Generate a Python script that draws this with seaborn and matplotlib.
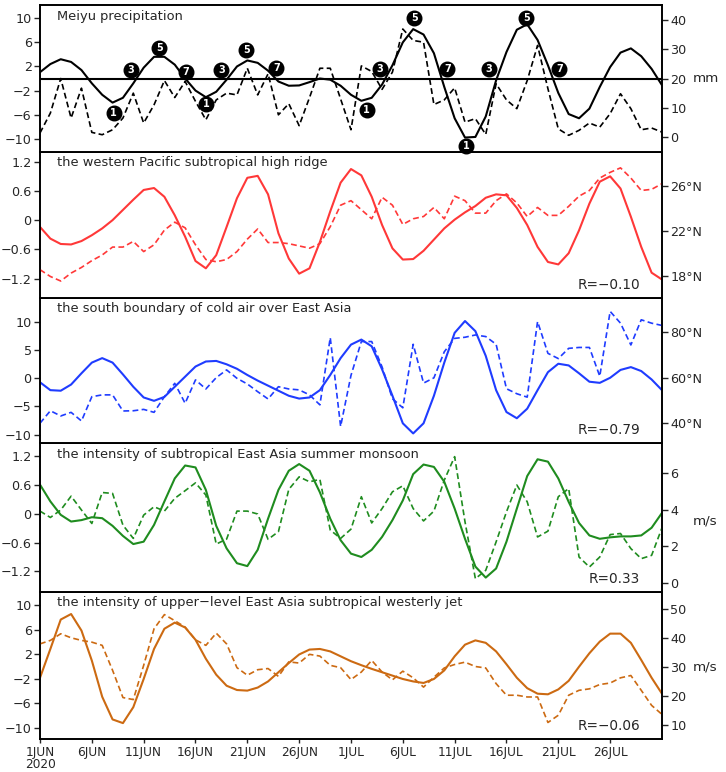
import numpy as np
import pandas as pd
import matplotlib
matplotlib.use("Agg")
import matplotlib.pyplot as plt
import seaborn as sns

sns.set_style("ticks")
plt.rcParams["font.family"] = ["DejaVu Sans"]
plt.rcParams["axes.unicode_minus"] = True

# days since 1 Jun 2020
days = np.arange(61)
tick_days = [0, 5, 10, 15, 20, 25, 30, 35, 40, 45, 50, 55]
tick_labels = ["1JUN\n2020", "6JUN", "11JUN", "16JUN", "21JUN", "26JUN",
               "1JUL", "6JUL", "11JUL", "16JUL", "21JUL", "26JUL"]

# Meiyu precipitation: filtered (left) and raw in mm (right)
meiyu_iso = [1.05, 2.4, 3.2, 2.75, 1.4, -0.8, -2.7, -4.0, -3.2, -0.8,
             1.8, 3.6, 3.6, 2.3, 0.0, -2.0, -3.1, -2.2, -0.2, 2.0,
             3.0, 2.6, 1.3, -0.5, -1.2, -1.15, -0.6, 0.0, -0.2, -1.2,
             -2.7, -3.7, -3.2, -1.0, 2.2, 6.0, 8.2, 7.3, 4.2, -1.4,
             -6.6, -9.8, -9.7, -6.3, -0.3, 4.4, 8.1, 9.0, 6.4, 2.2,
             -2.4, -5.9, -6.6, -5.0, -1.4, 1.9, 4.3, 5.0, 3.7, 1.6, -1.1]
meiyu_raw = [1.4, 8.2, 20.0, 6.5, 16.7, 1.6, 0.8, 2.5, 6.5, 15.0,
             4.8, 11.0, 19.3, 13.5, 19.0, 12.2, 5.9, 12.7, 15.0, 14.4,
             23.5, 14.4, 21.6, 7.6, 11.4, 3.9, 13.5, 23.5, 23.5, 13.0,
             2.5, 24.3, 22.4, 16.3, 22.2, 36.9, 33.0, 32.4, 11.1, 12.7,
             16.8, 5.1, 6.3, 0.9, 18.2, 12.7, 9.7, 19.3, 31.3, 16.5,
             2.8, 0.6, 2.3, 4.8, 3.4, 8.0, 14.8, 9.7, 2.5, 3.1, 1.7]

# ISO phase markers on the Meiyu curve
phase_num = [1, 3, 5, 7, 1, 3, 5, 7, 1, 3, 5, 7, 1, 3, 5, 7]
phase_day = [7.1, 8.8, 11.5, 14.1, 16.0, 17.5, 19.9, 22.8,
             31.5, 32.8, 36.1, 39.3, 41.1, 43.3, 46.9, 50.1]
phase_val = [-5.7, 1.4, 5.1, 1.0, -4.2, 1.4, 4.7, 1.7,
             -5.3, 1.6, 10.0, 1.5, -11.2, 1.5, 10.1, 1.5]

# western Pacific subtropical high ridge
wpsh_iso = [-0.14, -0.38, -0.49, -0.50, -0.43, -0.31, -0.17, 0.0, 0.21, 0.42,
            0.62, 0.66, 0.48, 0.10, -0.34, -0.84, -0.99, -0.72, -0.14, 0.45,
            0.87, 0.91, 0.53, -0.27, -0.79, -1.10, -0.99, -0.45, 0.18, 0.77,
            1.05, 0.92, 0.48, -0.10, -0.58, -0.81, -0.80, -0.63, -0.40, -0.17,
            0.01, 0.16, 0.29, 0.46, 0.53, 0.51, 0.25, -0.10, -0.55, -0.86,
            -0.91, -0.68, -0.21, 0.34, 0.79, 0.90, 0.65, 0.07, -0.55, -1.08, -1.22]
wpsh_raw = [18.6, 18.0, 17.6, 18.3, 18.8, 19.4, 19.9, 20.6, 20.6, 21.1,
            20.2, 20.8, 22.1, 22.8, 22.3, 20.8, 19.5, 19.3, 19.5, 20.2,
            21.3, 22.2, 21.0, 21.0, 20.9, 20.7, 20.5, 20.9, 22.4, 24.3,
            24.7, 23.9, 23.1, 25.0, 24.3, 22.6, 23.1, 23.3, 24.1, 23.1,
            25.1, 24.7, 23.6, 23.6, 24.7, 25.3, 24.5, 23.3, 24.1, 23.4,
            23.4, 24.2, 25.1, 25.6, 26.7, 27.2, 27.6, 26.7, 25.6, 25.7, 26.2]

# south boundary of cold air over East Asia
cold_iso = [-0.7, -2.1, -2.2, -1.1, 0.9, 2.8, 3.6, 2.8, 0.7, -1.5,
            -3.4, -4.0, -3.3, -1.5, 0.3, 2.1, 3.0, 3.1, 2.5, 1.7,
            0.6, -0.4, -1.3, -2.2, -3.1, -3.6, -3.4, -2.1, 0.6, 3.6,
            6.0, 6.9, 5.7, 1.6, -3.1, -8.0, -9.8, -8.0, -3.1, 2.8,
            8.1, 10.2, 8.4, 4.0, -2.1, -6.0, -7.1, -5.4, -2.1, 1.1,
            2.6, 2.3, 0.9, -0.6, -0.8, 0.1, 1.5, 2.0, 1.3, -0.2, -2.1]
cold_raw = [39.9, 45.4, 43.1, 44.7, 40.9, 51.6, 52.4, 52.4, 45.3, 45.4,
            46.0, 44.7, 51.6, 57.5, 48.7, 59.0, 55.0, 60.0, 63.4, 59.7,
            57.2, 53.8, 50.6, 56.0, 55.0, 54.6, 52.4, 48.0, 77.6, 38.5,
            61.0, 75.9, 75.9, 64.7, 50.7, 46.7, 74.7, 57.6, 59.9, 71.4,
            77.3, 77.8, 78.8, 78.1, 74.7, 55.1, 52.9, 51.4, 84.7, 70.7,
            68.4, 72.9, 73.3, 73.3, 60.6, 89.2, 84.0, 74.4, 85.5, 84.0, 83.0]

# intensity of subtropical East Asia summer monsoon
monsoon_iso = [0.61, 0.26, -0.02, -0.16, -0.13, -0.07, -0.09, -0.25, -0.46, -0.63,
               -0.58, -0.23, 0.26, 0.74, 1.01, 0.97, 0.50, -0.25, -0.72, -1.03,
               -1.09, -0.75, -0.10, 0.50, 0.90, 1.04, 0.90, 0.45, -0.10, -0.55,
               -0.83, -0.90, -0.75, -0.48, -0.13, 0.28, 0.83, 1.03, 0.98, 0.67,
               0.11, -0.52, -1.10, -1.33, -1.14, -0.58, 0.11, 0.79, 1.14, 1.09,
               0.74, 0.25, -0.19, -0.45, -0.52, -0.49, -0.47, -0.47, -0.45, -0.29, 0.02]
monsoon_raw = [3.93, 3.58, 3.99, 4.75, 3.99, 3.25, 4.95, 4.90, 3.16, 2.43,
               3.71, 4.17, 3.93, 4.63, 5.05, 5.48, 4.81, 2.12, 2.39, 3.93,
               3.93, 3.77, 2.38, 2.80, 5.12, 5.81, 5.54, 5.67, 2.89, 2.43,
               2.94, 4.72, 3.28, 4.07, 4.99, 5.32, 4.07, 3.39, 3.93, 5.63,
               6.92, 3.34, 0.22, 0.68, 2.24, 3.89, 5.36, 4.44, 2.51, 2.83,
               4.72, 5.17, 1.41, 0.86, 1.41, 2.64, 2.70, 1.87, 1.32, 1.50, 3.01]

# intensity of upper-level East Asia subtropical westerly jet
jet_iso = [-1.8, 2.9, 7.7, 8.6, 5.9, 1.0, -4.9, -8.6, -9.2, -6.6,
           -2.0, 2.9, 6.2, 7.2, 6.4, 4.4, 1.3, -1.3, -3.1, -3.8,
           -3.9, -3.4, -2.4, -0.9, 0.6, 2.0, 2.8, 2.9, 2.5, 1.7,
           0.9, 0.25, -0.35, -0.9, -1.45, -2.0, -2.4, -2.65, -2.0, -0.6,
           1.7, 3.6, 4.3, 3.9, 2.5, 0.4, -1.8, -3.5, -4.4, -4.5,
           -3.7, -2.3, 0.0, 2.2, 4.1, 5.4, 5.4, 3.9, 1.1, -1.8, -4.4]
jet_raw = [37.8, 39.0, 41.3, 39.9, 39.0, 38.4, 37.3, 28.7, 19.3, 18.6,
           30.4, 43.0, 47.9, 45.8, 43.6, 39.2, 37.3, 41.5, 37.8, 29.6,
           27.0, 28.9, 29.3, 26.6, 31.6, 31.2, 34.2, 33.6, 30.4, 29.6,
           25.5, 28.1, 32.1, 28.1, 25.4, 28.4, 26.1, 22.9, 26.3, 29.5,
           30.7, 31.5, 30.0, 29.5, 24.1, 20.1, 20.1, 19.5, 19.5, 10.7,
           13.2, 20.1, 21.8, 22.3, 23.8, 24.3, 26.1, 26.9, 21.8, 16.6, 13.5]

panels = [
    dict(title="Meiyu precipitation", iso=meiyu_iso, raw=meiyu_raw, color="black",
         ylim=(-12.2, 12.2), yticks=[-10, -6, -2, 2, 6, 10], yfmt="{:g}",
         ylim2=(-5.1, 45.1), yticks2=[0, 10, 20, 30, 40], yfmt2="{:g}",
         unit="mm", unit_y=20, r=None),
    dict(title="the western Pacific subtropical high ridge", iso=wpsh_iso, raw=wpsh_raw,
         color="#ff3838", ylim=(-1.6, 1.4), yticks=[-1.2, -0.6, 0, 0.6, 1.2], yfmt="{:g}",
         ylim2=(16.1, 29.0), yticks2=[18, 22, 26], yfmt2="{:g}°N",
         unit=None, unit_y=None, r="R=\u22120.10"),
    dict(title="the south boundary of cold air over East Asia", iso=cold_iso, raw=cold_raw,
         color="#1f3cff", ylim=(-11.5, 14.3), yticks=[-10, -5, 0, 5, 10], yfmt="{:g}",
         ylim2=(31.2, 95.1), yticks2=[40, 60, 80], yfmt2="{:g}°N",
         unit=None, unit_y=None, r="R=\u22120.79"),
    dict(title="the intensity of subtropical East Asia summer monsoon", iso=monsoon_iso,
         raw=monsoon_raw, color="#1f8c1f", ylim=(-1.63, 1.48),
         yticks=[-1.2, -0.6, 0, 0.6, 1.2], yfmt="{:g}",
         ylim2=(-0.51, 7.67), yticks2=[0, 2, 4, 6], yfmt2="{:g}",
         unit="m/s", unit_y=3.4, r="R=0.33"),
    dict(title="the intensity of upper\u2212level East Asia subtropical westerly jet",
         iso=jet_iso, raw=jet_raw, color="#cc6a12", ylim=(-11.8, 12.2),
         yticks=[-10, -6, -2, 2, 6, 10], yfmt="{:g}",
         ylim2=(5.0, 55.7), yticks2=[10, 20, 30, 40, 50], yfmt2="{:g}",
         unit="m/s", unit_y=30, r="R=\u22120.06"),
]

fig = plt.figure(figsize=(7.26, 7.72), dpi=100)
bounds = [(0.8031, 0.9935), (0.6140, 0.8031), (0.4262, 0.6140),
          (0.2332, 0.4262), (0.0427, 0.2332)]
left, width = 0.0551, 0.8567
fs = 9.2

for i, (p, (b, t)) in enumerate(zip(panels, bounds)):
    ax = fig.add_axes([left, b, width, t - b])
    ax2 = ax.twinx()
    ax.set_zorder(10 - 2 * i)
    ax2.set_zorder(11 - 2 * i)
    df = pd.DataFrame({"day": days, "iso": p["iso"], "raw": p["raw"]})
    sns.lineplot(data=df, x="day", y="iso", ax=ax, color=p["color"], lw=1.5)
    sns.lineplot(data=df, x="day", y="raw", ax=ax2, color=p["color"], lw=1.2,
                 linestyle=(0, (3.5, 2)))
    ax.set_xlim(0, 60)
    ax.set_ylim(*p["ylim"])
    ax2.set_ylim(*p["ylim2"])
    ax.set_yticks(p["yticks"])
    ax.set_yticklabels([p["yfmt"].format(v).replace("-", "\u2212") for v in p["yticks"]])
    ax2.set_yticks(p["yticks2"])
    ax2.set_yticklabels([p["yfmt2"].format(v) for v in p["yticks2"]])
    ax.set_xlabel("")
    ax.set_ylabel("")
    ax2.set_ylabel("")
    for a in (ax, ax2):
        a.tick_params(axis="y", labelsize=fs, length=4, width=1, pad=2)
        for s in a.spines.values():
            s.set_linewidth(1.2)
            s.set_color("black")
    ax.set_xticks(tick_days)
    if i == len(panels) - 1:
        ax.set_xticklabels(tick_labels, fontsize=fs - 0.5, ha="center", linespacing=0.95)
        ax.tick_params(axis="x", length=3, width=1, pad=2)
    else:
        ax.set_xticklabels([])
        ax.tick_params(axis="x", length=0)
    ax.text(0.027, 0.925, p["title"], transform=ax.transAxes, fontsize=9.4,
            ha="left", va="center")
    if p["r"]:
        ax.text(0.965, 0.09, p["r"], transform=ax.transAxes, fontsize=9.8,
                ha="right", va="center")
    if p["unit"]:
        ax2.text(1.05, p["unit_y"], p["unit"], transform=ax2.get_yaxis_transform(),
                 fontsize=fs + 0.5, ha="left", va="center")
    if i == 0:
        ax.axhline(0, color="black", lw=1.5)
        ax2.scatter(phase_day, phase_val, s=110, color="black", zorder=5,
                    clip_on=False, transform=ax.transData)
        for d, v, n in zip(phase_day, phase_val, phase_num):
            ax2.text(d, v, str(n), transform=ax.transData, color="white",
                     fontsize=7, fontweight="bold", ha="center", va="center",
                     zorder=6, clip_on=False)

fig.savefig("out.png", dpi=100)
